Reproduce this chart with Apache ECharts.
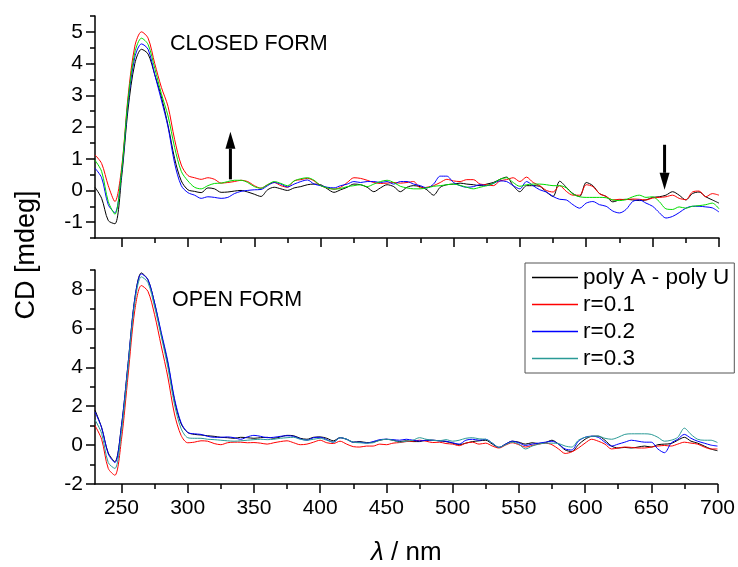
<!DOCTYPE html>
<html><head><meta charset="utf-8">
<script src="https://cdn.jsdelivr.net/npm/echarts@6/dist/echarts.min.js"></script>
<style>html,body{margin:0;padding:0;background:#fff}#c{width:738px;height:567px}</style>
</head><body><div id="c"></div>
<script>
const wavelengths = [230,235,240,245,250,255,260,265,270,275,280,285,290,295,300,305,310,315,320,325,330,335,340,345,350,355,360,365,370,375,380,385,390,395,400,405,410,415,420,425,430,435,440,445,450,455,460,465,470,475,480,485,490,495,500,505,510,515,520,525,530,535,540,545,550,555,560,565,570,575,580,585,590,595,600,605,610,615,620,625,630,635,640,645,650,655,660,665,670,675,680,685,690,695,700];
const seriesNames = ['poly A - poly U','r=0.1','r=0.2','r=0.3'];
// CLOSED FORM panel
const closedPolyAU = [0.10,-0.25,-0.95,-1.05,0.4,2.6,4.0,4.45,4.3,3.65,2.95,2.05,1.0,0.3,0.02,-0.03,-0.07,0.08,0.05,-0.06,-0.05,-0.02,0.0,-0.05,-0.12,-0.19,0.02,0.10,0.05,0.0,0.08,0.12,0.18,0.20,0.18,0.05,-0.06,0.02,0.10,0.20,0.18,0.10,-0.04,0.08,0.18,0.12,-0.04,0.10,0.15,0.12,0.02,-0.15,0.10,0.18,0.20,0.23,0.20,0.18,0.15,0.20,0.25,0.35,0.42,0.15,-0.04,0.15,0.15,0.13,-0.05,-0.19,0.29,0.10,-0.10,-0.19,0.25,0.15,-0.10,-0.19,-0.36,-0.30,-0.28,-0.30,-0.32,-0.30,-0.22,-0.20,-0.15,-0.04,-0.15,-0.30,-0.10,-0.05,-0.20,-0.30,-0.40];
const closedR01 = [1.12,0.85,0.15,-0.35,0.7,3.0,4.55,5.0,4.8,4.0,3.25,2.65,1.6,0.8,0.47,0.40,0.35,0.40,0.35,0.23,0.25,0.28,0.32,0.28,0.15,0.07,0.18,0.25,0.15,0.10,0.30,0.34,0.38,0.30,0.15,0.08,0.04,0.10,0.25,0.40,0.38,0.32,0.25,0.22,0.23,0.25,0.23,0.25,0.28,0.08,0.10,0.15,0.25,0.35,0.30,0.28,0.34,0.34,0.20,0.18,0.15,0.30,0.34,0.40,0.28,0.42,0.25,0.15,0.0,-0.05,0.15,-0.03,-0.15,-0.15,0.18,0.12,-0.10,-0.19,-0.30,-0.28,-0.29,-0.27,-0.28,-0.30,-0.24,-0.22,-0.20,-0.15,-0.25,-0.29,-0.05,-0.02,-0.20,-0.10,-0.15];
const closedR02 = [0.70,0.40,-0.45,-0.70,0.55,2.8,4.2,4.62,4.45,3.65,2.85,2.0,0.85,0.15,-0.07,-0.15,-0.25,-0.20,-0.22,-0.25,-0.22,-0.10,-0.03,0.00,0.02,0.03,0.15,0.25,0.20,0.11,0.20,0.28,0.33,0.20,0.15,0.10,0.08,0.15,0.20,0.28,0.25,0.28,0.28,0.25,0.28,0.20,0.28,0.28,0.20,0.15,0.08,0.20,0.45,0.45,0.25,0.15,0.10,0.12,0.18,0.15,0.22,0.30,0.28,0.15,0.05,0.28,0.15,0.02,-0.05,-0.19,-0.28,-0.30,-0.45,-0.56,-0.40,-0.35,-0.45,-0.50,-0.65,-0.71,-0.60,-0.35,-0.30,-0.40,-0.50,-0.70,-0.87,-0.82,-0.70,-0.56,-0.50,-0.50,-0.52,-0.55,-0.68];
const closedR03 = [0.95,0.6,-0.35,-0.75,0.6,2.9,4.35,4.8,4.6,3.85,3.05,2.35,1.35,0.6,0.30,0.10,0.05,0.15,0.22,0.23,0.28,0.32,0.32,0.25,0.12,0.07,0.18,0.28,0.22,0.15,0.30,0.37,0.40,0.32,0.15,0.08,0.04,0.06,0.12,0.15,0.18,0.12,0.20,0.28,0.32,0.25,0.13,0.08,0.05,0.05,0.08,0.13,0.15,0.18,0.20,0.16,0.10,0.05,0.10,0.15,0.22,0.35,0.40,0.25,0.13,0.18,0.20,0.20,0.18,0.15,0.15,0.08,-0.12,-0.20,-0.22,-0.22,-0.22,-0.23,-0.30,-0.32,-0.29,-0.20,-0.15,-0.22,-0.20,-0.35,-0.58,-0.60,-0.52,-0.56,-0.50,-0.48,-0.45,-0.40,-0.58];
// OPEN FORM panel
const openPolyAU = [1.8,0.9,-0.4,-0.85,1.0,4.2,7.5,8.85,8.5,7.3,5.7,4.2,2.3,1.1,0.65,0.55,0.52,0.48,0.45,0.40,0.38,0.35,0.40,0.38,0.35,0.38,0.40,0.35,0.42,0.50,0.48,0.35,0.30,0.40,0.42,0.35,0.22,0.38,0.30,0.15,0.18,0.13,0.15,0.25,0.30,0.25,0.18,0.22,0.18,0.18,0.25,0.25,0.22,0.18,0.10,0.02,0.10,0.18,0.22,0.25,0.05,-0.12,0.05,0.20,0.15,0.05,0.12,0.08,0.12,0.25,0.05,-0.25,-0.33,0.02,0.30,0.45,0.46,0.25,-0.05,-0.15,-0.12,-0.15,-0.10,-0.05,-0.10,0.02,0.05,0.08,0.25,0.40,0.20,0.10,-0.05,-0.20,-0.29];
const openR01 = [1.0,0.3,-1.2,-1.55,0.3,3.6,6.9,8.2,7.9,6.7,5.1,3.5,1.6,0.5,0.12,0.15,0.22,0.20,0.08,0.02,0.12,0.15,0.15,0.12,0.13,0.10,0.05,0.12,0.18,0.22,0.12,0.02,0.05,0.15,0.25,0.12,0.08,0.20,0.05,-0.08,-0.10,-0.05,-0.05,0.05,0.02,0.10,0.13,0.18,0.20,0.25,0.20,0.13,0.15,0.08,0.05,-0.03,0.10,0.15,0.05,0.10,-0.05,-0.15,0.00,0.12,0.02,-0.10,-0.02,0.05,0.10,0.02,-0.20,-0.43,-0.35,-0.15,0.10,0.30,0.20,0.05,-0.20,-0.15,-0.10,-0.12,-0.15,-0.15,-0.10,-0.05,-0.02,-0.05,0.05,0.15,0.10,0.05,-0.10,-0.20,-0.20];
const openR02 = [1.7,0.9,-0.45,-0.9,1.0,4.2,7.5,8.8,8.5,7.3,5.8,4.3,2.4,1.15,0.65,0.58,0.55,0.45,0.40,0.40,0.42,0.38,0.30,0.42,0.50,0.45,0.38,0.40,0.45,0.48,0.45,0.32,0.25,0.38,0.40,0.28,0.15,0.38,0.30,0.15,0.15,0.10,0.18,0.28,0.30,0.28,0.25,0.30,0.25,0.21,0.25,0.25,0.22,0.20,0.12,0.05,0.25,0.30,0.25,0.30,0.10,-0.12,0.05,0.20,0.12,-0.02,0.05,0.10,0.15,0.20,0.05,-0.20,-0.25,0.20,0.40,0.46,0.40,0.15,-0.05,0.05,0.15,0.25,0.20,0.15,0.15,-0.20,-0.39,0.10,0.30,0.55,0.35,0.20,0.10,0.00,-0.05];
const openR03 = [1.3,0.6,-0.9,-1.2,0.7,4.0,7.3,8.65,8.35,7.1,5.6,4.0,2.1,0.85,0.38,0.35,0.35,0.30,0.28,0.25,0.22,0.20,0.22,0.25,0.28,0.30,0.28,0.30,0.35,0.38,0.40,0.30,0.25,0.30,0.35,0.25,0.15,0.38,0.30,0.15,0.12,0.10,0.12,0.25,0.30,0.25,0.15,0.20,0.25,0.38,0.30,0.25,0.22,0.28,0.20,0.25,0.35,0.38,0.32,0.30,0.10,-0.12,0.02,0.15,0.05,-0.20,-0.05,0.05,0.10,0.10,0.08,-0.05,-0.10,0.25,0.40,0.45,0.46,0.35,0.30,0.40,0.55,0.58,0.58,0.58,0.55,0.40,0.20,0.25,0.40,0.87,0.55,0.30,0.25,0.25,0.13];
// axis ticks
const xMajorTicks = [250,300,350,400,450,500,550,600,650,700];
const xMinorTicks = [250,275,300,325,350,375,400,425,450,475,500,525,550,575,600,625,650,675,700];
const closedMajorTicks = [-1,0,1,2,3,4,5];
const closedMinorTicks = [-1.5,-1,-0.5,0,0.5,1,1.5,2,2.5,3,3.5,4,4.5,5,5.5];
const openMajorTicks = [-2,0,2,4,6,8];
const openMinorTicks = [-2,-1,0,1,2,3,4,5,6,7,8,9];
// arrows [x, yTail, yTip] in data units of the CLOSED FORM panel
const arrowUp = [332, 0.35, 1.85];
const arrowDown = [659, 1.44, 0.02];

const closedColors = ['#000000','#ff0000','#0000ff','#00dd00'];
const openColors = ['#000000','#ff0000','#0000ff','#2a9a96'];
const FONT = 'Liberation Sans, Arial, sans-serif';

function pairs(vals){ return wavelengths.map((w,i)=>[w, vals[i]]); }

const chart = echarts.init(document.getElementById('c'), null, {renderer:'canvas'});

const grids = [
  {left:95, right:19, top:16, height:222},
  {left:95, right:19, top:270, height:221}
];
function xAxes(gi, showLabels){
  return [
    {gridIndex:gi, type:'value', min:230, max:700, position:'bottom',
     axisLine:{show:true, onZero:false, lineStyle:{color:'#000', width:1.5}},
     axisTick:{show:true, inside:false, length:9, customValues:xMajorTicks, lineStyle:{color:'#000', width:1.5}},
     axisLabel:{show:showLabels, customValues:xMajorTicks, color:'#000', fontSize:21, fontFamily:FONT, margin:14},
     splitLine:{show:false},
     name: showLabels ? '{i|λ} / nm' : '', nameLocation:'middle', nameGap:56,
     nameTextStyle:{color:'#000', fontSize:26, fontFamily:FONT, rich:{i:{fontStyle:'italic', fontSize:26, fontFamily:FONT, color:'#000'}}}},
    {gridIndex:gi, type:'value', min:230, max:700, position:'bottom',
     axisLine:{show:false, onZero:false},
     axisTick:{show:true, inside:false, length:5, customValues:xMinorTicks, lineStyle:{color:'#000', width:1.5}},
     axisLabel:{show:false}, splitLine:{show:false}}
  ];
}
function yAxes(gi, min, max, major, minor){
  return [
    {gridIndex:gi, type:'value', min:min, max:max, position:'left',
     axisLine:{show:true, onZero:false, lineStyle:{color:'#000', width:1.5}},
     axisTick:{show:true, inside:false, length:9, customValues:major, lineStyle:{color:'#000', width:1.5}},
     axisLabel:{show:true, customValues:major, color:'#000', fontSize:21, fontFamily:FONT, margin:12},
     splitLine:{show:false}},
    {gridIndex:gi, type:'value', min:min, max:max, position:'left',
     axisLine:{show:false, onZero:false},
     axisTick:{show:true, inside:false, length:5, customValues:minor, lineStyle:{color:'#000', width:1.5}},
     axisLabel:{show:false}, splitLine:{show:false}}
  ];
}

const closedData = [closedPolyAU, closedR01, closedR02, closedR03];
const openData = [openPolyAU, openR01, openR02, openR03];
const series = [];
closedData.forEach((d,i)=>{
  series.push({name:seriesNames[i], type:'line', xAxisIndex:0, yAxisIndex:0, data:pairs(d),
    showSymbol:false, smooth:0.3, lineStyle:{width:1, color:closedColors[i]}, itemStyle:{color:closedColors[i]}, z:3+i, silent:true});
});
openData.forEach((d,i)=>{
  series.push({name:seriesNames[i], type:'line', xAxisIndex:2, yAxisIndex:2, data:pairs(d),
    showSymbol:false, smooth:0.3, lineStyle:{width:1, color:openColors[i]}, itemStyle:{color:openColors[i]}, z:3+i, silent:true});
});

const textGraphics = [
  {type:'text', left:170, top:33, style:{text:'CLOSED FORM', fontSize:21.5, fontFamily:FONT, fill:'#000'}},
  {type:'text', left:172, top:289, style:{text:'OPEN FORM', fontSize:21.5, fontFamily:FONT, fill:'#000'}},
  {type:'text', x:27, y:255, rotation:Math.PI/2, style:{text:'CD [mdeg]', fontSize:27, fontFamily:FONT, fill:'#000', align:'center', verticalAlign:'middle'}}
];

chart.setOption({
  animation:false,
  backgroundColor:'#fff',
  grid:grids,
  xAxis:[...xAxes(0,false), ...xAxes(1,true)],
  yAxis:[...yAxes(0,-1.5,5.5,closedMajorTicks,closedMinorTicks), ...yAxes(1,-2,9,openMajorTicks,openMinorTicks)],
  legend:{left:525, top:263, orient:'vertical', selectedMode:false,
    backgroundColor:'#fff', borderColor:'#555', borderWidth:1, padding:[3,5,3,7],
    itemWidth:46, itemHeight:1.5, itemGap:4, icon:'rect',
    textStyle:{color:'#000', fontSize:22.5, fontFamily:FONT, lineHeight:22},
    data:seriesNames.map((n,i)=>({name:n, itemStyle:{color:openColors[i]}}))},
  graphic:textGraphics,
  series:series
});

// arrows placed through the chart's own coordinate conversion
function arrowGraphic(a){
  const tail = chart.convertToPixel({xAxisIndex:0, yAxisIndex:0}, [a[0], a[1]]);
  const tip = chart.convertToPixel({xAxisIndex:0, yAxisIndex:0}, [a[0], a[2]]);
  const dir = tip[1] < tail[1] ? -1 : 1;
  const headLen = 17, headHalf = 5;
  const baseY = tip[1] - dir*headLen;
  return [
    {type:'line', shape:{x1:tail[0], y1:tail[1], x2:tip[0], y2:baseY}, style:{stroke:'#000', lineWidth:3}, z:100},
    {type:'polygon', shape:{points:[[tip[0], tip[1]],[tip[0]-headHalf, baseY],[tip[0]+headHalf, baseY]]}, style:{fill:'#000'}, z:100}
  ];
}
chart.setOption({graphic:[...textGraphics, ...arrowGraphic(arrowUp), ...arrowGraphic(arrowDown)]});
</script></body></html>
